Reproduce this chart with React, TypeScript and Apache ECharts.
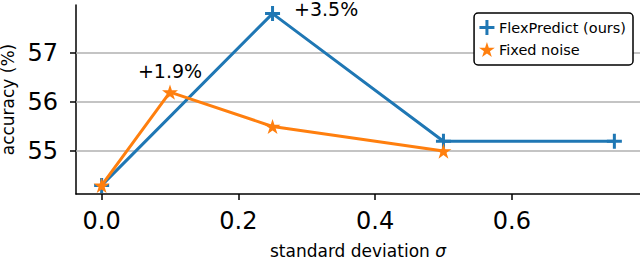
import React, { useEffect, useRef } from "react";
import * as echarts from "echarts";

const flexX = [0, 0.25, 0.5, 0.75];
const flexY = [54.3, 57.8, 55.2, 55.2];
const fixedX = [0, 0.1, 0.25, 0.5];
const fixedY = [54.3, 56.2, 55.5, 55.0];
const seriesNames = ["FlexPredict (ours)", "Fixed noise"];
const xTicks = [0, 0.2, 0.4, 0.6];
const yTicks = [55, 56, 57];
const xRange = [-0.0375, 0.7875];
const yRange = [54.125, 57.975];
// annotation: [series index, point index, text]
const annotations: [number, number, string][] = [
  [1, 1, "+1.9%"],
  [0, 1, "+3.5%"],
];

const FONT = "DejaVu Sans";
const PLUS = "path://M0,6 H6 V0 H9 V6 H15 V9 H9 V15 H6 V9 H0 Z";
const STAR =
  "path://M100,0 L122.45,69.1 L195.1,69.1 L136.3,111.8 L158.8,180.9 L100,138.2 L41.2,180.9 L63.7,111.8 L4.9,69.1 L77.55,69.1 Z";

export default function App() {
  const ref = useRef<HTMLDivElement>(null);
  useEffect(() => {
    document.body.style.margin = "0";
    const chart = echarts.init(ref.current!, null, { renderer: "svg" });
    const labelStyles: Record<number, any> = {
      0: { position: "right", distance: 14, offset: [0, -5] },
      1: { position: "top", distance: 5 },
    };
    const mk = (xs: number[], ys: number[], si: number) =>
      xs.map((x, i) => {
        const ann = annotations.find((a) => a[0] === si && a[1] === i);
        const item: any = { value: [x, ys[i]] };
        if (ann) {
          item.label = {
            show: true,
            formatter: ann[2],
            color: "#000",
            fontFamily: FONT,
            fontSize: 19,
            lineHeight: 17,
            ...labelStyles[si],
          };
        }
        return item;
      });
    chart.setOption({
      animation: false,
      textStyle: { fontFamily: FONT },
      grid: { left: 76, right: 0, top: 5, bottom: 65, containLabel: false, outerBoundsMode: "none" },
      legend: {
        orient: "vertical",
        right: 7,
        top: 13,
        padding: [7, 7, 8, 5],
        itemGap: 7,
        itemWidth: 16,
        itemHeight: 15,
        borderColor: "#000",
        borderWidth: 1.5,
        borderRadius: 4,
        backgroundColor: "#fff",
        textStyle: { fontFamily: FONT, fontSize: 14.5, color: "#000", padding: [0, 0, 0, -1] },
        data: [
          { name: seriesNames[0], icon: PLUS },
          { name: seriesNames[1], icon: STAR },
        ],
      },
      xAxis: {
        type: "value",
        min: xRange[0],
        max: xRange[1],
        name: "standard deviation {i|σ}",
        nameLocation: "middle",
        nameGap: 48,
        nameTextStyle: {
          fontFamily: FONT,
          fontSize: 17,
          color: "#000",
          rich: { i: { fontFamily: FONT, fontSize: 17, fontStyle: "italic", color: "#000" } },
        },
        splitLine: { show: false },
        axisLine: { show: true, onZero: false, lineStyle: { color: "#000", width: 1.5 } },
        axisTick: { show: true, length: 6, customValues: xTicks, lineStyle: { color: "#000", width: 1.5 } },
        axisLabel: {
          customValues: xTicks,
          margin: 15,
          fontFamily: FONT,
          fontSize: 24,
          color: "#000",
          formatter: (v: number) => v.toFixed(1),
        },
      },
      yAxis: {
        type: "value",
        min: yRange[0],
        max: yRange[1],
        name: "accuracy (%)",
        nameLocation: "middle",
        nameGap: 55,
        nameTextStyle: { fontFamily: FONT, fontSize: 17, lineHeight: 17, color: "#000" },
        splitLine: { show: false },
        axisLine: { show: true, onZero: false, lineStyle: { color: "#000", width: 1.5 } },
        axisTick: { show: true, length: 6, customValues: yTicks, lineStyle: { color: "#000", width: 1.5 } },
        axisLabel: {
          customValues: yTicks,
          margin: 18,
          fontFamily: FONT,
          fontSize: 24,
          color: "#000",
          formatter: (v: number) => String(v),
        },
      },
      series: [
        {
          name: seriesNames[0],
          type: "line",
          data: mk(flexX, flexY, 0),
          symbol: PLUS,
          symbolSize: 15,
          z: 3,
          lineStyle: { color: "#1f77b4", width: 3 },
          itemStyle: { color: "#1f77b4" },
          markLine: {
            silent: true,
            z: 1,
            symbol: "none",
            label: { show: false },
            lineStyle: { color: "#b0b0b0", width: 1.5, type: "solid" },
            data: yTicks.map((v) => ({ yAxis: v })),
          },
        },
        {
          name: seriesNames[1],
          type: "line",
          data: mk(fixedX, fixedY, 1),
          symbol: STAR,
          symbolSize: 16,
          symbolKeepAspect: true,
          z: 4,
          lineStyle: { color: "#ff7f0e", width: 3 },
          itemStyle: { color: "#ff7f0e" },
        },
      ],
    });
    return () => chart.dispose();
  }, []);
  return <div ref={ref} style={{ width: 640, height: 259 }} />;
}
